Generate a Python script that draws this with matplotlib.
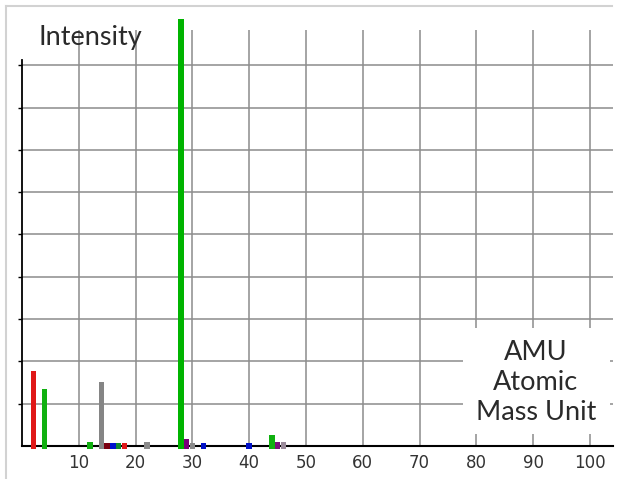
import matplotlib
matplotlib.use('Agg')
import matplotlib.pyplot as plt
from matplotlib.lines import Line2D
from matplotlib.patches import Rectangle

# mass peaks (amu) and their intensities
amu = [2, 4, 12, 14, 15, 16, 17, 18, 22, 28, 29, 30, 32, 40, 44, 45, 46]
intensity = [1.78, 1.35, 0.10, 1.52, 0.08, 0.08, 0.08, 0.08, 0.09, 10.12,
             0.16, 0.08, 0.08, 0.08, 0.26, 0.09, 0.09]
peak_colors = ['#e01818', '#10b010', '#10b010', '#858585', '#7a0010', '#0010d0',
               '#108a30', '#e01818', '#8a8a8a', '#00b400', '#7a007a', '#8a8a8a',
               '#0010c8', '#0010c8', '#10b010', '#7a107a', '#9a8a9a']
xtick_vals = [10, 20, 30, 40, 50, 60, 70, 80, 90, 100]
ytick_vals = [1, 2, 3, 4, 5, 6, 7, 8, 9]

W, H = 619, 479
fig = plt.figure(figsize=(W / 100, H / 100), dpi=100)
ax = fig.add_axes([22 / W, (H - 467.15) / H, 590.7 / W, 448.38 / H])
ax.set_xlim(0, 104)
ax.set_ylim(-0.5, 10.1)
ax.patch.set_alpha(0)

grid_c = '#8c8c8c'
ax.hlines(ytick_vals, 0, 104, color=grid_c, lw=1.1, zorder=1)
ax.vlines(xtick_vals, 0, 9.83, color=grid_c, lw=1.1, zorder=1)

# label box over the lower right of the grid
ax.add_patch(Rectangle((77.6, 0.28), 25.9, 2.51, facecolor='white',
                       edgecolor='none', zorder=1.5))

# bars start a little below the baseline
base = 0.08
ax.bar(amu, [v + base for v in intensity], bottom=-base, width=0.95,
       color=peak_colors, zorder=3)

for s in ['top', 'right']:
    ax.spines[s].set_visible(False)
ax.spines['left'].set_position(('data', 0))
ax.spines['bottom'].set_position(('data', 0))
ax.spines['left'].set_bounds(0, 9.12)
ax.spines['bottom'].set_bounds(0, 104)
ax.spines['left'].set_linewidth(1.3)
ax.spines['bottom'].set_linewidth(1.5)

ax.set_xticks(xtick_vals)
ax.set_xticklabels([str(v) for v in xtick_vals],
                   family=['Liberation Sans Narrow', 'DejaVu Sans'],
                   fontsize=12, color='#333333')
ax.tick_params(axis='x', length=0, pad=6)
ax.set_yticks(ytick_vals)
ax.set_yticklabels([])
ax.tick_params(axis='y', length=3, width=1, direction='out')

txt_font = ['Lato', 'DejaVu Sans']
fig.text(90 / W, 1 - 45 / H, 'Intensity', ha='center', va='baseline',
         fontsize=19.5, family=txt_font, color='#2a2a2a')
for line, y0 in [('AMU', 360), ('Atomic', 390), ('Mass Unit', 420)]:
    fig.text(536 / W, 1 - y0 / H, line, ha='center', va='baseline',
             fontsize=19.5, family=txt_font, color='#2a2a2a')

# light outer frame
frame_c = '#d2d2d2'
fig.add_artist(Line2D([6 / W, 612 / W], [1 - 6 / H, 1 - 6 / H],
                      transform=fig.transFigure, color=frame_c, lw=1.5))
fig.add_artist(Line2D([6 / W, 6 / W], [0, 1 - 6 / H],
                      transform=fig.transFigure, color=frame_c, lw=1.5))

fig.savefig('out.png', dpi=100)
